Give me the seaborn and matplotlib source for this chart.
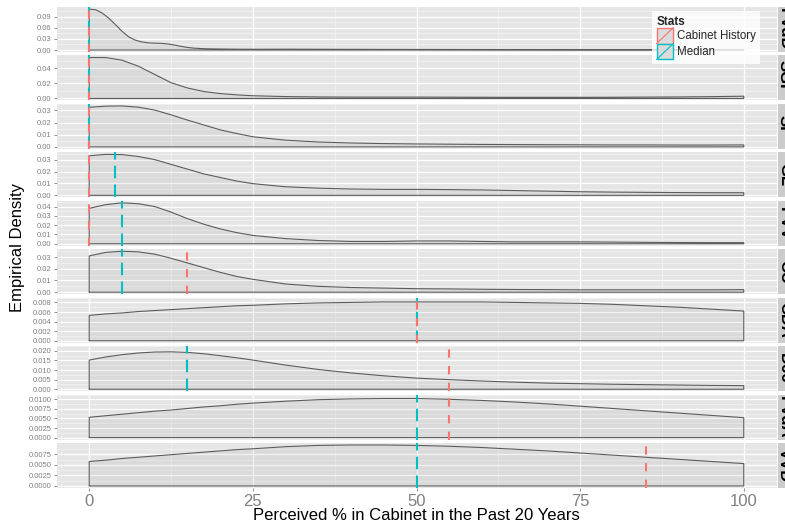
import numpy as np
import pandas as pd
import matplotlib
matplotlib.use("Agg")
import matplotlib.pyplot as plt
import seaborn as sns
from matplotlib.lines import Line2D
from matplotlib.patches import Rectangle
from matplotlib.legend_handler import HandlerBase

# ---------------- data ----------------
parties = ["PvdD", "SGP", "SP", "GL", "PVV", "CU", "CDA", "D66", "PvdA", "VVD"]
cabinet_history = [0, 0, 0, 0, 0, 15, 50, 55, 55, 85]
median_value = [0, 0, 0, 4, 5, 5, 50, 15, 50, 50]

x_grid = [0, 2.5, 5, 7.5, 10, 12.5, 15, 17.5, 20, 22.5, 25, 30, 35, 40, 45,
          50, 55, 60, 65, 70, 75, 80, 85, 90, 95, 100]
x_grid_PvdD = [0, 1, 2, 3, 4, 5, 6, 7, 8, 9, 10, 11, 12, 13, 14, 15, 16, 17, 18, 20, 22.5, 25,
               30, 35, 40, 45, 50, 55, 60, 65, 70, 75, 80, 85, 90, 95, 100]

dens_PvdD = [0.111, 0.109, 0.100, 0.086, 0.069, 0.051, 0.036, 0.027, 0.022, 0.0195, 0.0185, 0.018,
             0.0165, 0.0135, 0.010, 0.007, 0.005, 0.004, 0.0033, 0.0027, 0.0022, 0.002, 0.0022, 0.002,
             0.0018, 0.0016, 0.0015, 0.0014, 0.0013, 0.0012, 0.0011, 0.001, 0.001, 0.001, 0.001, 0.001,
             0.0011]
dens_SGP = [0.0546, 0.0546, 0.051, 0.043, 0.032, 0.021, 0.014, 0.0092, 0.0065, 0.0048, 0.0036, 0.0025, 0.002,
            0.0018, 0.0018, 0.0018, 0.0017, 0.0016, 0.0015, 0.0015, 0.0015, 0.0016, 0.0018, 0.002, 0.0024, 0.003]
dens_SP = [0.0325, 0.0334, 0.0336, 0.0326, 0.0302, 0.0263, 0.022, 0.018, 0.014, 0.011, 0.0083, 0.0055, 0.004,
           0.0032, 0.0027, 0.0024, 0.0022, 0.002, 0.0019, 0.0018, 0.0017, 0.0016, 0.0016, 0.0015, 0.0015, 0.0016]
dens_GL = [0.0332, 0.0344, 0.0342, 0.0326, 0.030, 0.026, 0.022, 0.018, 0.015, 0.012, 0.0098, 0.0072, 0.006,
           0.0053, 0.005, 0.005, 0.0048, 0.0045, 0.004, 0.0035, 0.003, 0.0027, 0.0025, 0.0023, 0.0022, 0.0022]
dens_PVV = [0.038, 0.042, 0.044, 0.043, 0.040, 0.034, 0.027, 0.021, 0.016, 0.012, 0.009, 0.0055, 0.0035,
            0.0025, 0.0025, 0.003, 0.003, 0.0025, 0.002, 0.002, 0.002, 0.0018, 0.0015, 0.0013, 0.0012, 0.0012]
dens_CU = [0.031, 0.034, 0.035, 0.0345, 0.0325, 0.029, 0.025, 0.021, 0.017, 0.0135, 0.011, 0.007, 0.005,
           0.004, 0.0035, 0.003, 0.0028, 0.0025, 0.0023, 0.0022, 0.002, 0.002, 0.002, 0.002, 0.002, 0.0022]
dens_CDA = [0.0053, 0.0056, 0.0058, 0.0061, 0.0063, 0.0065, 0.0067, 0.0069, 0.0071, 0.0073, 0.0074, 0.0077,
            0.0079, 0.0080, 0.0081, 0.0081, 0.0081, 0.0081, 0.0080, 0.0079, 0.0078, 0.0076, 0.0073, 0.0070,
            0.0066, 0.0062]
dens_D66 = [0.0152, 0.0168, 0.018, 0.0189, 0.0194, 0.0195, 0.0192, 0.0185, 0.0175, 0.0164, 0.0152, 0.0126,
            0.0103, 0.0085, 0.007, 0.0058, 0.005, 0.0043, 0.0037, 0.0032, 0.0029, 0.0026, 0.0024, 0.0022,
            0.002, 0.0019]
dens_PvdA = [0.0053, 0.0057, 0.0061, 0.0065, 0.0069, 0.0072, 0.0076, 0.008, 0.0083, 0.0087, 0.009, 0.0095,
             0.0099, 0.0101, 0.0102, 0.0102, 0.0100, 0.0097, 0.0093, 0.0088, 0.0082, 0.0076, 0.007, 0.0064,
             0.0058, 0.0052]
dens_VVD = [0.0058, 0.0061, 0.0065, 0.0068, 0.0071, 0.0074, 0.0077, 0.008, 0.0083, 0.0086, 0.0088, 0.0093,
            0.0096, 0.0097, 0.0097, 0.0096, 0.0094, 0.0091, 0.0087, 0.0083, 0.0078, 0.0073, 0.0068, 0.0063,
            0.0058, 0.0053]

densities = [dens_PvdD, dens_SGP, dens_SP, dens_GL, dens_PVV, dens_CU, dens_CDA, dens_D66, dens_PvdA, dens_VVD]
x_values = [x_grid_PvdD] + [x_grid] * 9

y_ticks = [
    [0, 0.03, 0.06, 0.09], [0, 0.02, 0.04], [0, 0.01, 0.02, 0.03], [0, 0.01, 0.02, 0.03],
    [0, 0.01, 0.02, 0.03, 0.04], [0, 0.01, 0.02, 0.03], [0, 0.002, 0.004, 0.006, 0.008],
    [0, 0.005, 0.010, 0.015, 0.020], [0, 0.0025, 0.005, 0.0075, 0.01], [0, 0.0025, 0.005, 0.0075],
]
y_tick_labels = [
    ["0.00", "0.03", "0.06", "0.09"], ["0.00", "0.02", "0.04"], ["0.00", "0.01", "0.02", "0.03"],
    ["0.00", "0.01", "0.02", "0.03"], ["0.00", "0.01", "0.02", "0.03", "0.04"], ["0.00", "0.01", "0.02", "0.03"],
    ["0.000", "0.002", "0.004", "0.006", "0.008"], ["0.000", "0.005", "0.010", "0.015", "0.020"],
    ["0.0000", "0.0025", "0.0050", "0.0075", "0.0100"], ["0.0000", "0.0025", "0.0050", "0.0075"],
]
x_ticks = [0, 25, 50, 75, 100]
x_tick_labels = ["0", "25", "50", "75", "100"]
stat_labels = ["Cabinet History", "Median"]

# ---------------- style ----------------
sns.set_theme(style="darkgrid")
plt.rcParams['font.family'] = ['Liberation Sans', 'DejaVu Sans']

RED = "#F8766D"
CYAN = "#00BFC4"
BG = "#E5E5E5"
TICK_GREY = "#7F7F7F"

W, H = 785, 529
fig = plt.figure(figsize=(W / 100, H / 100), dpi=100)
fig.patch.set_facecolor("white")

left_px, right_px, top_px, bottom_px = 56.5, 776.5, 7, 488
gs = fig.add_gridspec(10, 1, left=left_px / W, right=right_px / W,
                      top=1 - top_px / H, bottom=1 - bottom_px / H, hspace=0.075)

for i, party in enumerate(parties):
    ax = fig.add_subplot(gs[i, 0])
    xs = x_values[i]
    ys = densities[i]
    m = max(ys)
    ax.set_facecolor(BG)
    ax.set_xlim(-5, 105)
    ax.set_ylim(-0.05 * m, 1.05 * m)

    ax.set_xticks(x_ticks)
    ax.set_xticks([12.5, 37.5, 62.5, 87.5], minor=True)
    yt = y_ticks[i]
    ax.set_yticks(yt)
    step = yt[1] - yt[0]
    ax.set_yticks([t + step / 2 for t in yt], minor=True)
    ax.set_yticklabels(y_tick_labels[i])

    ax.grid(which="major", color="white", lw=0.9)
    ax.grid(which="minor", color="#F2F2F2", lw=0.6)
    ax.set_axisbelow(True)
    for s in ax.spines.values():
        s.set_visible(False)

    ax.tick_params(axis="y", which="major", labelsize=5.5, labelcolor=TICK_GREY,
                   color=TICK_GREY, length=2, width=0.6, pad=1.5, left=True)
    ax.tick_params(which="minor", length=0)
    if i == len(parties) - 1:
        ax.set_xticklabels(x_tick_labels)
        ax.tick_params(axis="x", which="major", labelsize=12, labelcolor=TICK_GREY,
                       color=TICK_GREY, length=2, width=0.6, pad=2, bottom=True)
    else:
        ax.tick_params(axis="x", which="major", bottom=False, labelbottom=False)

    # density polygon
    px = [xs[0]] + list(xs) + [xs[-1], xs[0]]
    py = [0] + list(ys) + [0, 0]
    ax.fill_between(xs, ys, 0, color="#808080", alpha=0.1, lw=0, zorder=2)
    df = pd.DataFrame({"x": px, "y": py})
    sns.lineplot(data=df, x="x", y="y", sort=False, estimator=None, ax=ax,
                 color="#5C5C5C", lw=0.8, zorder=3)
    ax.set_xlabel("")
    ax.set_ylabel("")

    # reference lines (cabinet history drawn on top of the median)
    ax.axvline(median_value[i], color=CYAN, lw=1.5, ls=(0, (6, 3)), zorder=4)
    ax.axvline(cabinet_history[i], color=RED, lw=1.5, ls=(0, (4, 4)), zorder=5)

    # strip on the right (labels partly beyond the canvas edge, as in the reference)
    bb = ax.get_position()
    fig.patches.append(Rectangle((778 / W, bb.y0), 30 / W, bb.height, transform=fig.transFigure,
                                 facecolor="#CCCCCC", edgecolor="none", zorder=0))
    fig.text(780 / W, bb.y0 + bb.height / 2, party, rotation=270, rotation_mode="anchor",
             ha="center", va="baseline", fontsize=12, fontweight="bold", color="black")

fig.text(416.5 / W, 1 - 516 / H, "Perceived % in Cabinet in the Past 20 Years",
         ha="center", va="center", fontsize=12, color="black")
fig.text(18 / W, 1 - 247 / H, "Empirical Density", rotation=90,
         ha="center", va="center", fontsize=12, color="black")


class KeyHandler(HandlerBase):
    def create_artists(self, legend, orig_handle, xdescent, ydescent, width, height, fontsize, trans):
        c = orig_handle.get_color()
        r = Rectangle((-xdescent, -ydescent), width, height, facecolor="#DBDBDB",
                      edgecolor=c, lw=1.0, transform=trans)
        ln = Line2D([-xdescent, -xdescent + width], [-ydescent, -ydescent + height],
                    color=c, lw=0.8, transform=trans)
        return [r, ln]


handles = [Line2D([], [], color=RED), Line2D([], [], color=CYAN)]
leg = fig.legend(handles, stat_labels, title="Stats", loc="upper left",
                 bbox_to_anchor=(652 / W, 1 - 11 / H), frameon=True, fontsize=8.3,
                 title_fontsize=8.5, handlelength=1.45, handleheight=1.75, labelspacing=0.0,
                 handletextpad=0.3, borderpad=0.4, borderaxespad=0, alignment="left",
                 handler_map={Line2D: KeyHandler()})
leg.get_frame().set_facecolor("white")
leg.get_frame().set_edgecolor("none")
leg.get_frame().set_boxstyle("square", pad=0)
leg.get_title().set_fontweight("bold")

fig.savefig("out.png", dpi=100)
